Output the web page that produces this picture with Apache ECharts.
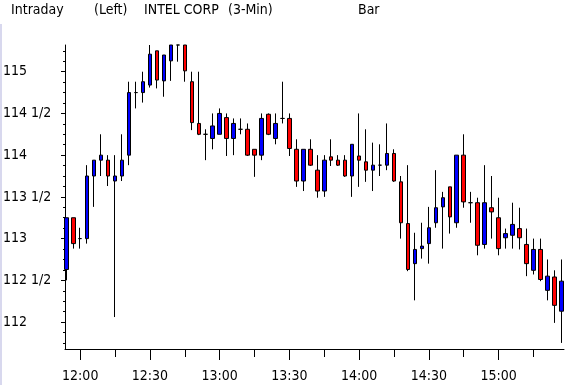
<!DOCTYPE html>
<html><head><meta charset="utf-8">
<script src="https://cdn.jsdelivr.net/npm/echarts@6/dist/echarts.min.js"></script>
<style>html,body{margin:0;padding:0;background:#fff}#c{width:574px;height:385px}</style>
</head><body><div id="c"></div>
<script>
const times = ['11:54','11:57','12:00','12:03','12:06','12:09','12:12','12:15','12:18','12:21',
  '12:24','12:27','12:30','12:33','12:36','12:39','12:42','12:45','12:48','12:51',
  '12:54','12:57','13:00','13:03','13:06','13:09','13:12','13:15','13:18','13:21',
  '13:24','13:27','13:30','13:33','13:36','13:39','13:42','13:45','13:48','13:51',
  '13:54','13:57','14:00','14:03','14:06','14:09','14:12','14:15','14:18','14:21',
  '14:24','14:27','14:30','14:33','14:36','14:39','14:42','14:45','14:48','14:51',
  '14:54','14:57','15:00','15:03','15:06','15:09','15:12','15:15','15:18','15:21',
  '15:24','15:27'];
const openP = [112.63,113.25,113.0,113.0,113.75,113.94,113.94,113.69,113.75,114.0,
  114.75,114.75,114.84,115.25,114.89,115.13,115.32,115.32,114.88,114.38,
  114.25,114.2,114.25,114.45,114.2,114.31,114.31,114.07,114.0,114.49,
  114.2,114.44,114.44,114.07,113.69,114.07,113.82,113.57,113.98,113.94,
  113.94,113.75,113.99,113.92,113.82,113.88,113.88,114.02,113.68,113.18,
  112.7,112.88,112.94,113.19,113.38,113.62,113.19,114.0,113.43,113.43,
  112.93,113.37,113.25,113.01,113.04,113.12,112.93,112.62,112.87,112.38,
  112.54,112.13];
const closeP = [113.25,112.94,113.0,113.75,113.94,114.0,113.75,113.75,113.94,114.75,
  114.75,114.88,115.21,114.9,115.2,115.32,115.32,115.01,114.39,114.25,
  114.25,114.35,114.5,114.2,114.38,114.31,114.0,114.0,114.44,114.25,
  114.38,114.44,114.08,113.69,114.07,113.88,113.57,113.94,113.94,113.88,
  113.75,114.13,113.94,113.82,113.88,113.88,114.02,113.69,113.19,112.63,
  112.87,112.91,113.13,113.37,113.49,113.26,114.0,113.44,113.43,112.92,
  113.43,113.32,112.88,113.06,113.17,113.01,112.7,112.87,112.51,112.55,
  112.2,112.49];
const lowP = [112.5,112.88,112.88,112.94,113.38,113.75,113.63,112.06,113.69,113.88,
  114.56,114.63,114.81,114.8,114.7,114.89,115.12,114.88,114.3,114.24,
  113.94,114.07,114.25,113.99,114.0,114.25,113.99,113.74,113.94,114.24,
  114.13,114.38,113.99,113.62,113.57,113.87,113.49,113.5,113.87,113.87,
  113.74,113.5,113.62,113.68,113.57,113.75,113.82,113.68,113.0,112.61,
  112.26,112.76,112.7,113.13,112.88,113.06,113.13,113.37,113.19,112.8,
  112.88,113.0,112.8,112.88,112.88,112.87,112.55,112.57,112.49,112.26,
  111.99,111.75];
const highP = [113.25,113.25,113.13,113.88,113.94,114.25,114.0,114.0,114.25,114.88,
  114.88,115.0,115.32,115.25,115.2,115.32,115.32,115.32,115.0,115.0,
  114.31,114.5,114.56,114.5,114.44,114.44,114.38,114.07,114.5,114.5,
  114.5,114.88,114.5,114.19,114.07,114.19,114.0,114.0,114.19,114.0,
  114.0,114.13,114.5,114.31,114.15,114.13,114.38,114.07,113.75,113.88,
  113.07,113.19,113.38,113.82,113.56,113.62,114.0,114.25,113.56,113.49,
  113.88,113.75,113.49,113.12,113.43,113.37,113.12,113.0,113.0,112.75,
  112.62,112.75];
const xTickLabels = ['12:00','12:30','13:00','13:30','14:00','14:30','15:00'];
const xMinorTicks = ['12:15','12:45','13:15','13:45','14:15','14:45','15:15'];
const yTickValues = [112,112.5,113,113.5,114,114.5,115];
const yTickLabels = ['112','112 1/2','113','113 1/2','114','114 1/2','115'];
const titleParts = ['Intraday','(Left)','INTEL CORP','(3-Min)','Bar'];

const toMin = s => { const p = s.split(':'); return (+p[0]) * 60 + (+p[1]); };
const yMinor = [];
for (let v = 111.75; v <= 115.25 + 1e-9; v += 0.125) yMinor.push(+v.toFixed(3));

const FONT = "'DejaVu Sans Condensed', 'DejaVu Sans', sans-serif";
const candles = times.map((t, i) => [toMin(t), openP[i], closeP[i], lowP[i], highP[i]]);
const xMin = 713.44, xMax = 928.16, yMin = 111.677, yMax = 115.32;
const titleX = [11, 94, 144, 228, 358];

const chart = echarts.init(document.getElementById('c'), null, {renderer: 'canvas'});
chart.setOption({
  animation: false,
  backgroundColor: '#ffffff',
  grid: {left: 63, top: 45, width: 501, height: 304, containLabel: false},
  graphic: [
    {type: 'rect', left: 0, top: 24, shape: {width: 2, height: 361}, style: {fill: '#d8d8ee'}, silent: true}
  ].concat(titleParts.map((t, i) => ({
    type: 'text', x: titleX[i], y: 10,
    style: {text: t, font: '14px ' + FONT, fill: '#000', align: 'left', verticalAlign: 'middle'}
  }))),
  xAxis: [{
    type: 'value', position: 'bottom', min: xMin, max: xMax,
    splitLine: {show: false},
    axisLine: {show: true, onZero: false, lineStyle: {color: '#000', width: 1}},
    axisTick: {show: true, length: 11, lineStyle: {color: '#000'}, customValues: xTickLabels.map(toMin)},
    axisLabel: {show: true, margin: 20, color: '#000', fontFamily: FONT, fontSize: 14,
      customValues: xTickLabels.map(toMin),
      formatter: v => { const h = Math.floor(v / 60), m = Math.round(v % 60); return h + ':' + (m < 10 ? '0' : '') + m; }}
  }, {
    type: 'value', position: 'bottom', min: xMin, max: xMax,
    splitLine: {show: false},
    axisLine: {show: false, onZero: false},
    axisTick: {show: true, length: 8, lineStyle: {color: '#000'}, customValues: xMinorTicks.map(toMin)},
    axisLabel: {show: false}
  }],
  yAxis: [{
    type: 'value', position: 'left', min: yMin, max: yMax, scale: true,
    splitLine: {show: false},
    axisLine: {show: true, onZero: false, lineStyle: {color: '#000', width: 1}},
    axisTick: {show: true, length: 4, lineStyle: {color: '#000'}, customValues: yTickValues},
    axisLabel: {show: true, align: 'left', margin: 62, color: '#000', fontFamily: FONT, fontSize: 14,
      customValues: yTickValues,
      formatter: v => { const i = yTickValues.findIndex(t => Math.abs(t - v) < 1e-6); return i >= 0 ? yTickLabels[i] : ''; }}
  }, {
    type: 'value', position: 'left', min: yMin, max: yMax, scale: true,
    splitLine: {show: false},
    axisLine: {show: false, onZero: false},
    axisTick: {show: true, length: 2, lineStyle: {color: '#000'}, customValues: yMinor},
    axisLabel: {show: false}
  }],
  series: [{
    type: 'candlestick', xAxisIndex: 0, yAxisIndex: 0,
    data: candles, barWidth: 4,
    itemStyle: {color: '#0000ff', color0: '#ff0000', borderColor: '#000', borderColor0: '#000', borderColorDoji: '#000', borderWidth: 1},
    emphasis: {disabled: true}
  }]
});
</script></body></html>
